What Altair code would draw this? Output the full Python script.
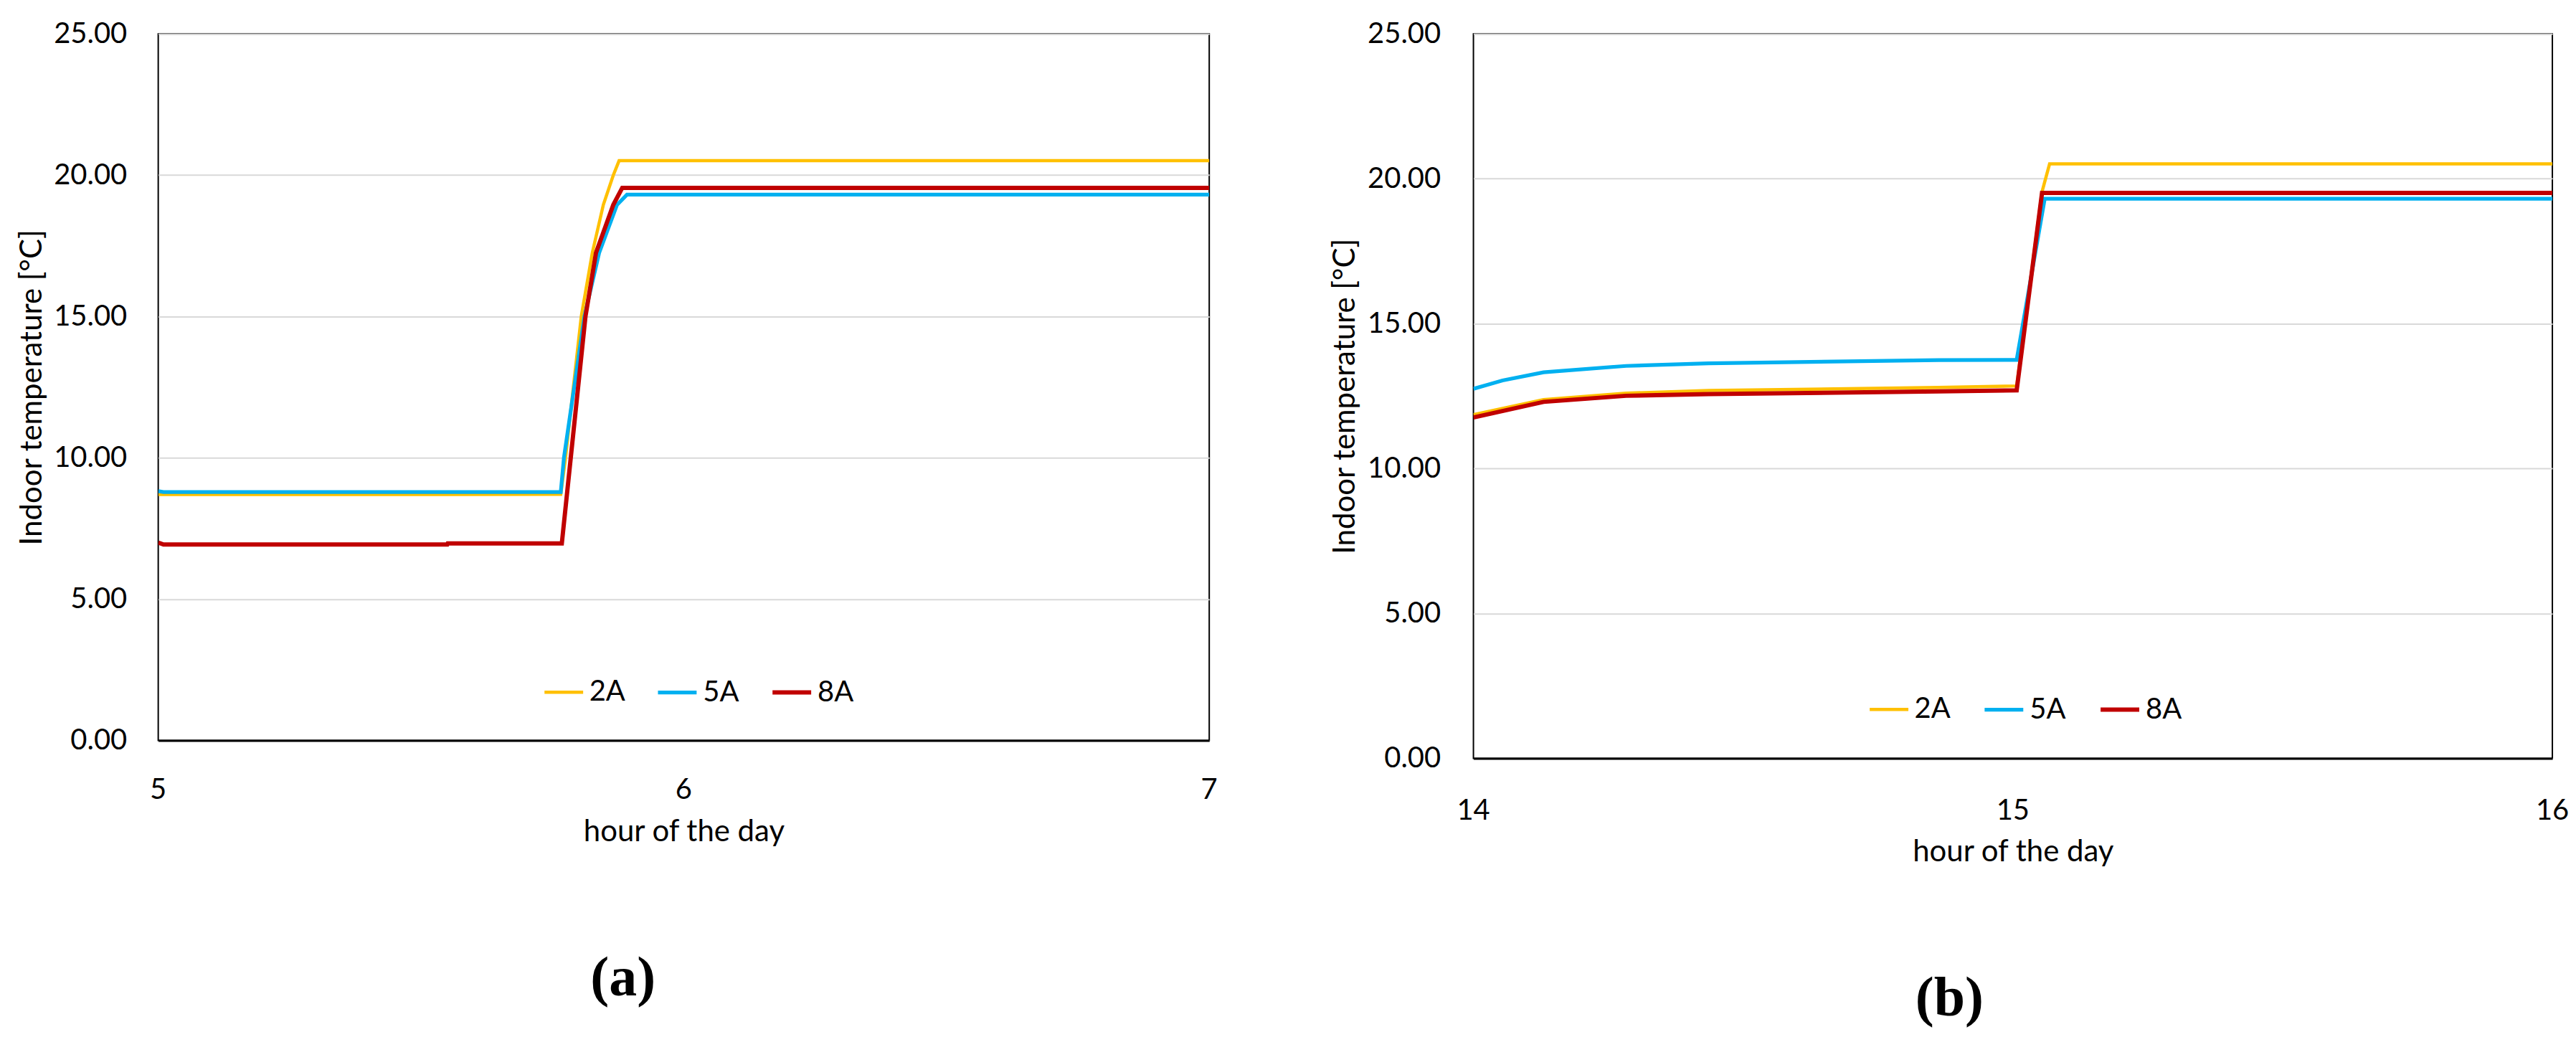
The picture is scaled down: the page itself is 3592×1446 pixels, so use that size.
import altair as alt
import pandas as pd

series = ["2A", "5A", "8A"]
colors = ["#FFC000", "#00B0F0", "#C00000"]
widths = [4.5, 6.0, 6.0]

# ---- panel (a): 5-7 h ----
a_hours_2A = [5.0, 5.076, 5.55, 5.766, 5.775, 5.805, 5.826, 5.847, 5.866, 5.877, 7.0]
a_temps_2A = [8.70, 8.70, 8.70, 8.71, 10.0, 15.0, 17.25, 18.95, 20.0, 20.51, 20.51]
a_hours_5A = [5.0, 5.01, 5.766, 5.772, 5.811, 5.839, 5.873, 5.892, 7.0]
a_temps_5A = [8.82, 8.79, 8.79, 10.0, 15.0, 17.25, 18.95, 19.31, 19.31]
a_hours_8A = [5.0, 5.01, 5.55, 5.551, 5.768, 5.785, 5.813, 5.833, 5.866, 5.883, 7.0]
a_temps_8A = [7.00, 6.93, 6.93, 6.97, 6.97, 10.0, 15.0, 17.25, 18.95, 19.55, 19.55]

# ---- panel (b): 14-16 h ----
b_hours_2A = [14.0, 14.13, 14.283, 14.436, 14.862, 15.007, 15.054, 15.068, 16.0]
b_temps_2A = [11.86, 12.38, 12.60, 12.69, 12.80, 12.85, 19.55, 20.51, 20.51]
b_hours_5A = [14.0, 14.024, 14.054, 14.13, 14.283, 14.436, 14.862, 15.007, 15.059, 16.0]
b_temps_5A = [12.75, 12.88, 13.04, 13.32, 13.54, 13.63, 13.74, 13.75, 19.31, 19.31]
b_hours_8A = [14.0, 14.13, 14.283, 14.436, 14.862, 15.007, 15.054, 16.0]
b_temps_8A = [11.76, 12.30, 12.51, 12.57, 12.66, 12.70, 19.51, 19.51]

a_ticks = [5, 6, 7]
b_ticks = [14, 15, 16]
y_ticks = [0, 5, 10, 15, 20, 25]


def frame(hours, temps):
    rows = []
    for k, s in enumerate(series):
        for i, (h, t) in enumerate(zip(hours[k], temps[k])):
            rows.append({"series": s, "hour": h, "temp": t, "idx": i})
    return pd.DataFrame(rows)


df_a = frame([a_hours_2A, a_hours_5A, a_hours_8A], [a_temps_2A, a_temps_5A, a_temps_8A])
df_b = frame([b_hours_2A, b_hours_5A, b_hours_8A], [b_temps_2A, b_temps_5A, b_temps_8A])

txt = dict(labelFont="Lato", labelFontSize=40, labelColor="black",
           titleFont="Lato", titleFontSize=42, titleFontWeight="normal", titleColor="black")


def panel(df, ticks, w, h, lab_pad_y, title_pad_y, lab_pad_x, title_pad_x,
          leg_x, leg_y, col_pad, caption, cap_offset, cap_dx):
    xscale = alt.Scale(domain=[ticks[0], ticks[-1]], nice=False, zero=False)
    lines = alt.Chart(df).mark_line(clip=True).encode(
        x=alt.X("hour:Q", scale=xscale,
                axis=alt.Axis(values=ticks, labels=False, title="hour of the day",
                              ticks=False, grid=False, domainColor="black", domainWidth=3,
                              titlePadding=title_pad_x, **txt)),
        y=alt.Y("temp:Q",
                scale=alt.Scale(domain=[0, 25], nice=False, zero=True),
                axis=alt.Axis(values=y_ticks, tickCount=len(y_ticks), format=".2f",
                              title="Indoor temperature [°C]",
                              ticks=False, domain=False, grid=True, gridColor="#D9D9D9",
                              gridWidth=2, labelOverlap=False, labelFlush=False,
                              labelPadding=lab_pad_y, titlePadding=title_pad_y, **txt)),
        color=alt.Color("series:N", scale=alt.Scale(domain=series, range=colors),
                        legend=alt.Legend(title=None, orient="none", legendX=leg_x, legendY=leg_y,
                                          direction="horizontal", symbolType="stroke",
                                          symbolSize=2916, symbolStrokeWidth=5,
                                          labelFont="Lato", labelFontSize=40, labelColor="black",
                                          labelOffset=6, columnPadding=col_pad, padding=0)),
        strokeWidth=alt.StrokeWidth("series:N", scale=alt.Scale(domain=series, range=widths),
                                    legend=None),
        order=alt.Order("idx:Q"),
    )
    tick_df = pd.DataFrame({"hour": ticks, "label": [str(t) for t in ticks]})
    tick_labels = alt.Chart(tick_df).mark_text(
        font="Lato", fontSize=40, color="black", baseline="top", align="center"
    ).encode(
        x=alt.X("hour:Q", scale=xscale),
        y=alt.value(h + lab_pad_x),
        text="label:N",
    )
    return alt.layer(lines, tick_labels).properties(
        width=w, height=h,
        title=alt.TitleParams(caption, orient="bottom", anchor="middle", frame="bounds",
                              font="Liberation Serif", fontSize=78, fontWeight="bold",
                              color="black", offset=cap_offset, dx=cap_dx),
    )


pa = panel(df_a, a_ticks, 1468, 987, 44, 8, 50, 107, 537, 890, 34, "(a)", 146, 8)
pb = panel(df_b, b_ticks, 1507, 1012, 46, 9, 54, 110, 551, 914, 36, "(b)", 146, 0)

chart = alt.hconcat(pa, pb, spacing=154).resolve_scale(
    color="independent", strokeWidth="independent"
).resolve_legend(
    color="independent", strokeWidth="independent"
).properties(
    padding={"left": 14, "top": 17, "right": 0, "bottom": 0},
    background="white",
).configure_view(
    stroke="black", strokeWidth=2
)

chart.save("out.html", embed_options={"renderer": "svg", "actions": False})
